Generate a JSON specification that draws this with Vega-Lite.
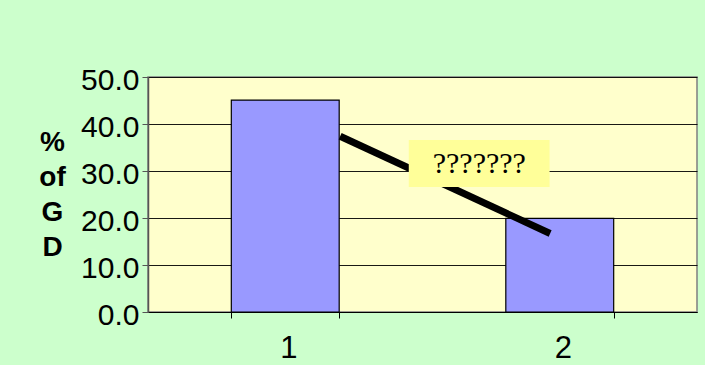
{
  "$schema": "https://vega.github.io/schema/vega-lite/v6.json",
  "autosize": {"type": "none"},
  "width": 549,
  "height": 235,
  "padding": {"left": 148, "top": 77, "right": 8, "bottom": 53},
  "background": "#CCFFCC",
  "config": {
    "view": {"fill": "#FFFFCC", "stroke": "#808080", "strokeWidth": 1.5},
    "font": "Liberation Sans"
  },
  "datasets": {
    "bars": [
      {"group": "1", "share": 45.1},
      {"group": "2", "share": 19.9}
    ],
    "arrow": [
      {"pos": 1.2, "share": 37.4},
      {"pos": 1.965, "share": 16.7}
    ],
    "box": [
      {"x0": 1.45, "x1": 1.963, "y0": 26.6, "y1": 36.6, "cx": 1.707, "cy": 31.4, "label": "???????"}
    ]
  },
  "encoding": {
    "y": {
      "field": "share", "type": "quantitative",
      "scale": {"domain": [0, 50], "nice": false},
      "axis": {
        "values": [0, 10, 20, 30, 40, 50], "format": ".1f",
        "labelFontSize": 30, "labelColor": "#000", "labelPadding": 3, "labelOffset": 3,
        "tickSize": 6, "tickColor": "#555", "domainColor": "#555", "domainWidth": 1.5,
        "grid": true, "gridColor": "#000", "gridWidth": 1, "gridOpacity": 0.9,
        "title": ["%", "of", "G", "D"], "titleAngle": 0, "titleFontSize": 28,
        "titleFontWeight": "bold", "titleColor": "#000", "titleLineHeight": 35,
        "titleX": -96, "titleY": 73, "titleAlign": "center", "titleBaseline": "alphabetic"
      }
    }
  },
  "layer": [
    {
      "data": {"name": "bars"},
      "mark": {"type": "bar", "fill": "#9999FF", "stroke": "#000000", "strokeWidth": 1.2},
      "encoding": {
        "x": {
          "field": "group", "type": "ordinal",
          "scale": {"paddingInner": 0.607, "paddingOuter": 0.3035},
          "axis": {
            "title": null, "labelAngle": 0, "labelFontSize": 31, "labelColor": "#000",
            "tickBand": "extent", "tickColor": "#000", "tickSize": 6, "labelOffset": 3,
            "domainColor": "#000", "labelPadding": 15, "grid": false
          }
        }
      }
    },
    {
      "data": {"name": "arrow"},
      "mark": {"type": "line", "color": "#000000", "strokeWidth": 7, "strokeCap": "butt"},
      "encoding": {
        "x": {"field": "pos", "type": "quantitative", "scale": {"domain": [0.5, 2.5], "nice": false, "zero": false}, "axis": null}
      }
    },
    {
      "data": {"name": "box"},
      "mark": {"type": "rect", "fill": "#FFFF99"},
      "encoding": {
        "x": {"field": "x0", "type": "quantitative", "scale": {"domain": [0.5, 2.5], "nice": false, "zero": false}, "axis": null},
        "x2": {"field": "x1"},
        "y": {"field": "y0", "type": "quantitative", "scale": {"domain": [0, 50], "nice": false}},
        "y2": {"field": "y1"}
      }
    },
    {
      "data": {"name": "box"},
      "mark": {"type": "text", "font": "Liberation Serif", "fontSize": 30, "color": "#000", "align": "center", "baseline": "middle"},
      "encoding": {
        "x": {"field": "cx", "type": "quantitative", "scale": {"domain": [0.5, 2.5], "nice": false, "zero": false}, "axis": null},
        "y": {"field": "cy", "type": "quantitative", "scale": {"domain": [0, 50], "nice": false}},
        "text": {"field": "label"}
      }
    }
  ],
  "resolve": {"scale": {"x": "independent"}}
}
